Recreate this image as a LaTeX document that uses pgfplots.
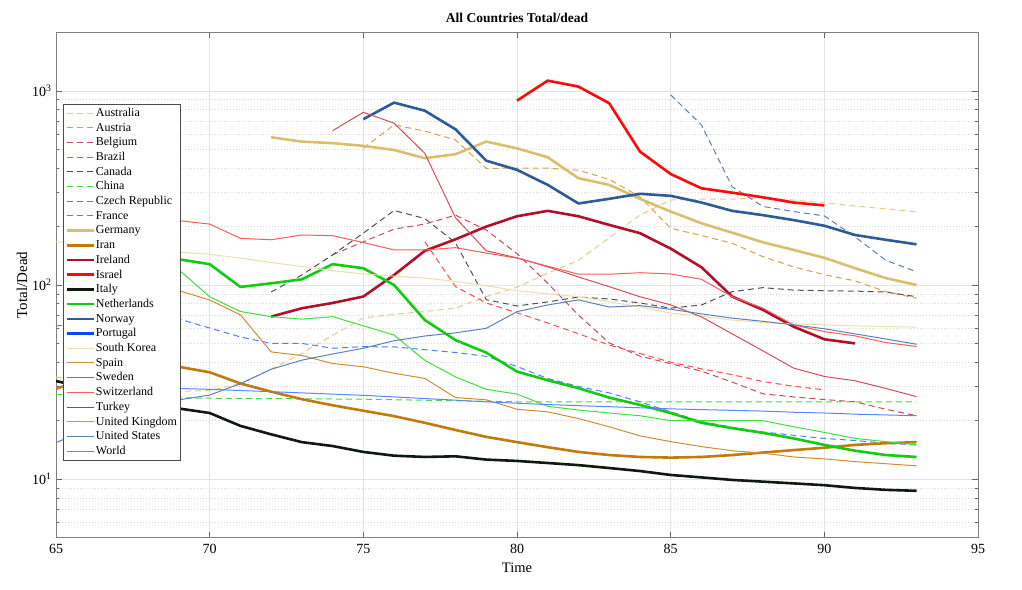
\documentclass[border=0pt]{standalone}
\usepackage{pgfplots}
\pgfplotsset{compat=1.18}
\usepackage{fontspec}
\setmainfont{Liberation Serif}
\definecolor{cAU}{HTML}{E8C98A}
\definecolor{cAT}{HTML}{D8A04A}
\definecolor{cBE}{HTML}{C24A5A}
\definecolor{cBR}{HTML}{FF4D4D}
\definecolor{cCA}{HTML}{505050}
\definecolor{cCN}{HTML}{3EDC3E}
\definecolor{cCZ}{HTML}{5A7DB5}
\definecolor{cFR}{HTML}{4D7DFF}
\definecolor{cDE}{HTML}{D9BF6B}
\definecolor{cIR}{HTML}{C07B0C}
\definecolor{cIE}{HTML}{B01028}
\definecolor{cIL}{HTML}{FF0A0A}
\definecolor{cIT}{HTML}{0D1A0D}
\definecolor{cNL}{HTML}{11CC11}
\definecolor{cNO}{HTML}{2D5B98}
\definecolor{cPT}{HTML}{0A45FF}
\definecolor{cKR}{HTML}{F0DCB0}
\definecolor{cES}{HTML}{CF8D33}
\definecolor{cSE}{HTML}{D24C5C}
\definecolor{cCH}{HTML}{FF5A5A}
\definecolor{cTR}{HTML}{606060}
\definecolor{cUK}{HTML}{3EE03E}
\definecolor{cUS}{HTML}{5A80B8}
\definecolor{cWO}{HTML}{5A85FF}
\pgfplotsset{
  thinl/.style={line width=1pt, solid},
  thickl/.style={line width=2.6pt, solid},
  dsh/.style={line width=1pt, dash pattern=on 6pt off 4pt},
}
\begin{document}
\begin{tikzpicture}[x=1pt,y=1pt]
\useasboundingbox (0,0) rectangle (1022,589);
\begin{semilogyaxis}[
  at={(56pt,51.5pt)}, anchor=south west,
  scale only axis, width=922pt, height=505pt,
  xmin=65, xmax=95, ymin=5, ymax=2000,
  xtick={65,70,75,80,85,90,95},
  ytick={10,100,1000},
  yticklabels={10\textsuperscript{1},10\textsuperscript{2},10\textsuperscript{3}},
  minor ytick={5,6,7,8,9,20,30,40,50,60,70,80,90,200,300,400,500,600,700,800,900,2000},
  /pgf/number format/assume math mode=true,
  xmajorgrids, ymajorgrids, yminorgrids,
  major grid style={color=black!11, line width=0.6pt},
  minor grid style={color=black!16, dash pattern=on 1pt off 2pt, line width=0.6pt},
  tick style={color=black!60, line width=0.6pt},
  major tick length=6pt, minor tick length=3pt,
  axis line style={draw=black!50, line width=0.8pt},
  ticklabel style={font=\fontsize{14}{14}\selectfont},
  xticklabel style={anchor=base, yshift=-16.5pt},
  yticklabel style={anchor=east, xshift=-1pt},
  title={All Countries Total/dead},
  title style={font=\bfseries\fontsize{13.5}{13.5}\selectfont, at={(axis description cs:0.5,1)}, anchor=base, yshift=3.5pt},
  xlabel={Time},
  xlabel style={font=\fontsize{14.5}{14.5}\selectfont, at={(axis description cs:0.5,0)}, anchor=base, yshift=-34.5pt},
  ylabel={Total/Dead},
  ylabel style={font=\fontsize{15}{15}\selectfont, at={(axis description cs:-0.0369,0.5)}, anchor=center},
  legend cell align=left,
  legend image code/.code={\draw[mark repeat=2,mark phase=2] plot coordinates {(0pt,0pt) (13.5pt,0pt) (27pt,0pt)};},
  legend style={at={(axis description cs:0.0076,0.8584)}, anchor=north west,
    font=\fontsize{12}{12}\selectfont, draw=black!70, line width=0.6pt, fill=white,
    inner sep=2pt, row sep=1.2pt,
    nodes={inner sep=1pt, text height=9pt, text depth=2.5pt}},
  every axis plot/.append style={line join=round},
]
% Australia
\addplot[color=cAU, dsh] coordinates {(65,33.5)(66,32)(67,30.5)(68,29.5)(69,28.3)(70,28.6)(71,31)(72,36.8)(73,44.5)(74,55)(75,67.6)(76,70.6)(77,73)(78,76)(79,87)(80,97.5)(81,115)(82,134)(83,175)(84,229)(85,274)(86,277)(87,277)(88,281)(89,274)(90,265)(91,255)(92,247)(93,238)};
\addlegendentry{Australia}
% Austria
\addplot[color=cAT, dsh] coordinates {(75,507)(76,668)(77,621)(78,559)(79,399)(80,400)(81,400)(82,390)(83,350)(84,285)(85,196)(86,180)(87,164)(88,140)(89,124)(90,113)(91,105)(92,92.4)(93,85.5)};
\addlegendentry{Austria}
% Belgium
\addplot[color=cBE, dsh] coordinates {(74,143)(75,167)(76,194)(77,206)(78,229)(79,192)(80,145)(81,102)(82,70)(83,50.3)(84,43)(85,39.3)(86,36)(87,31.6)(88,27.5)(89,26.5)(90,25.7)(91,25)(92,22.9)(93,21.2)};
\addlegendentry{Belgium}
% Brazil
\addplot[color=cBR, dsh] coordinates {(77,167)(78,98)(79,80.8)(80,71.9)(81,63.7)(82,56.1)(83,49)(84,44.4)(85,40)(86,37)(87,34.5)(88,31.8)(89,30.1)(90,28.8)};
\addlegendentry{Brazil}
% Canada
\addplot[color=cCA, dsh] coordinates {(72,92)(73,112.6)(74,143)(75,185)(76,242)(77,220)(78,165)(79,84)(80,78)(81,81.8)(82,86.7)(83,84.7)(84,80.8)(85,76)(86,78.9)(87,92.4)(88,96.9)(89,94.1)(90,93.4)(91,93)(92,92)(93,87)};
\addlegendentry{Canada}
% China
\addplot[color=cCN, dsh] coordinates {(65,27.3)(68,26.4)(70,26.1)(75,25.8)(80,25.0)(85,25.0)(93,25.0)};
\addlegendentry{China}
% Czech Republic
\addplot[color=cCZ, dsh] coordinates {(85,954)(86,668)(87,321)(88,254)(89,239)(90,227)(91,177)(92,134)(93,117)};
\addlegendentry{Czech Republic}
% France
\addplot[color=cFR, dsh] coordinates {(65,61.5)(66,64)(67,67)(68,68)(69,66.8)(70,60)(71,54)(72,50)(73,50)(74,47.2)(75,48.1)(76,48)(77,46.4)(78,44.9)(79,42.9)(80,38)(81,33)(82,30)(83,27.8)(84,25)(85,22.2)(86,19.8)(87,18.5)(88,17.5)(89,16.8)(90,16.2)(91,15.8)(92,15.3)(93,15.0)};
\addlegendentry{France}
% Germany
\addplot[color=cDE, thickl] coordinates {(72,577)(73,548)(74,538)(75,521)(76,496)(77,450)(78,472)(79,548)(80,506)(81,455)(82,355)(83,328)(84,278)(85,239)(86,208)(87,186)(88,166)(89,151.6)(90,138)(91,122)(92,108.5)(93,100)};
\addlegendentry{Germany}
% Iran
\addplot[color=cIR, thickl] coordinates {(65,29.2)(66,33)(67,37)(68,39)(69,37.9)(70,35.5)(71,31.1)(72,28.2)(73,25.8)(74,24.0)(75,22.5)(76,21.1)(77,19.5)(78,17.9)(79,16.5)(80,15.5)(81,14.6)(82,13.8)(83,13.3)(84,13.0)(85,12.9)(86,13.0)(87,13.3)(88,13.7)(89,14.1)(90,14.5)(91,15.0)(92,15.3)(93,15.5)};
\addlegendentry{Iran}
% Ireland
\addplot[color=cIE, thickl] coordinates {(72,68.7)(73,75.9)(74,80.8)(75,87.2)(76,112.6)(77,150)(78,172)(79,200)(80,226)(81,241)(82,226)(83,204)(84,185)(85,154)(86,123.5)(87,87.2)(88,74.5)(89,61)(90,52.5)(91,50)};
\addlegendentry{Ireland}
% Israel
\addplot[color=cIL, thickl] coordinates {(80,891)(81,1130)(82,1052)(83,864)(84,487)(85,373)(86,315)(87,299)(88,283)(89,266)(90,257)};
\addlegendentry{Israel}
% Italy
\addplot[color=cIT, thickl] coordinates {(65,32)(66,29.5)(67,27)(68,25)(69,23.1)(70,21.9)(71,18.8)(72,17.0)(73,15.5)(74,14.8)(75,13.8)(76,13.2)(77,13.0)(78,13.1)(79,12.6)(80,12.4)(81,12.1)(82,11.8)(83,11.4)(84,11.0)(85,10.5)(86,10.2)(87,9.9)(88,9.7)(89,9.5)(90,9.3)(91,9.0)(92,8.8)(93,8.7)};
\addlegendentry{Italy}
% Netherlands
\addplot[color=cNL, thickl] coordinates {(67,150)(68,145)(69,135.7)(70,128)(71,97.7)(72,102)(73,107)(74,128)(75,122)(76,100)(77,66)(78,52)(79,44.8)(80,35.8)(81,32.3)(82,29.4)(83,26.3)(84,24.1)(85,21.9)(86,19.5)(87,18.3)(88,17.3)(89,16.2)(90,15.0)(91,14.0)(92,13.3)(93,13.0)};
\addlegendentry{Netherlands}
% Norway
\addplot[color=cNO, thickl] coordinates {(75,715)(76,870)(77,791)(78,634)(79,437)(80,392)(81,328)(82,263)(83,278)(84,295)(85,288)(86,266)(87,241)(88,229)(89,216)(90,202)(91,181)(92,171)(93,162)};
\addlegendentry{Norway}
% Portugal (only behind the legend)
\addplot[color=cPT, thickl] coordinates {(66,60)(67,62)(68,64)};
\addlegendentry{Portugal}
% South Korea
\addplot[color=cKR, thinl] coordinates {(65,167)(66,162)(67,157)(68,152)(69,147.5)(70,144)(71,137.5)(72,130.6)(73,124.5)(74,118.5)(75,114)(76,111)(77,108.5)(78,104.3)(79,99)(80,93.5)(81,90)(82,87)(83,82)(84,77)(85,71.6)(86,69)(87,66)(88,64.1)(89,63)(90,62.3)(91,61.6)(92,61)(93,60.7)};
\addlegendentry{South Korea}
% Spain
\addplot[color=cES, thinl] coordinates {(67,100)(68,97)(69,93.5)(70,83.7)(71,70.2)(72,45.2)(73,43.3)(74,39.4)(75,37.9)(76,35.1)(77,33.0)(78,26.3)(79,25.6)(80,22.9)(81,22.2)(82,20.5)(83,18.6)(84,16.7)(85,15.6)(86,14.7)(87,14.0)(88,13.6)(89,13.0)(90,12.7)(91,12.3)(92,12.0)(93,11.7)};
\addlegendentry{Spain}
% Sweden
\addplot[color=cSE, thinl] coordinates {(74,624)(75,776)(76,682)(77,477)(78,222)(79,150)(80,138)(81,124)(82,110)(83,98)(84,87)(85,79)(86,68.5)(87,56)(88,45.8)(89,37.3)(90,33.8)(91,32.1)(92,29.3)(93,26.6)};
\addlegendentry{Sweden}
% Switzerland
\addplot[color=cCH, thinl] coordinates {(67,205)(68,210)(69,214.5)(70,206)(71,174)(72,171)(73,181)(74,179.5)(75,165.5)(76,151.6)(77,151.6)(78,155.7)(79,146)(80,137.5)(81,125)(82,113.6)(83,113.6)(84,115.7)(85,114)(86,107)(87,87)(88,76)(89,62.3)(90,57.5)(91,54.7)(92,50.5)(93,48.2)};
\addlegendentry{Switzerland}
% Turkey (only behind the legend)
\addplot[color=cTR, thinl] coordinates {(66,50)(67,52)(68,54)};
\addlegendentry{Turkey}
% United Kingdom
\addplot[color=cUK, thinl] coordinates {(67,140)(68,130)(69,119.5)(70,87)(71,73)(72,68.7)(73,66.7)(74,68.7)(75,61.6)(76,55.2)(77,40.9)(78,33.6)(79,29.0)(80,27.4)(81,23.7)(82,22.7)(83,21.9)(84,21.2)(85,20.0)(86,20.0)(87,20.0)(88,20.0)(89,18.6)(90,17.4)(91,16.2)(92,15.6)(93,15.0)};
\addlegendentry{United Kingdom}
% United States
\addplot[color=cUS, thinl] coordinates {(65,15.4)(66,18)(67,21)(68,23.5)(69,25.6)(70,27.1)(71,31.0)(72,36.8)(73,41.0)(74,44.1)(75,47.2)(76,51.6)(77,54.6)(78,56.7)(79,59.8)(80,72.9)(81,78.9)(82,83.8)(83,77)(84,78.3)(85,75)(86,71)(87,67.5)(88,65)(89,62.3)(90,59.5)(91,56)(92,52.7)(93,49.5)};
\addlegendentry{United States}
% World
\addplot[color=cWO, thinl] coordinates {(65,29.7)(66,29.6)(67,29.5)(68,29.4)(69,29.3)(70,29.0)(71,28.6)(72,28.2)(73,27.8)(74,27.4)(75,27.0)(76,26.5)(77,26.0)(78,25.5)(79,25.0)(80,24.6)(81,24.2)(82,23.9)(83,23.6)(84,23.3)(85,23.0)(86,22.8)(87,22.6)(88,22.4)(89,22.1)(90,21.9)(91,21.6)(92,21.4)(93,21.2)};
\addlegendentry{World}
\end{semilogyaxis}
\end{tikzpicture}
\end{document}
